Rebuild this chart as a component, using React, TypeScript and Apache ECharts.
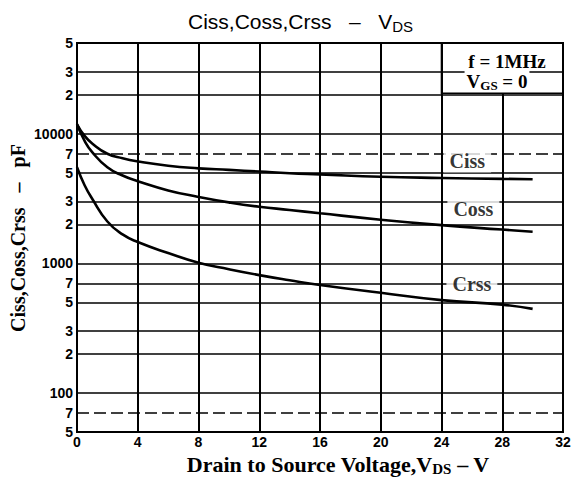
import React, { useEffect, useRef } from "react";
import * as echarts from "echarts";

// ---- data ----
const vds = [0, 0.5, 1, 2, 3, 4, 6, 8, 10, 12, 14, 16, 20, 24, 28, 30];
const ciss = [11800, 9600, 8400, 7000, 6450, 6100, 5650, 5400, 5250, 5100, 4950, 4850, 4650, 4550, 4480, 4450];
const coss = [11800, 8800, 7200, 5500, 4750, 4300, 3650, 3250, 2950, 2730, 2580, 2430, 2170, 1970, 1820, 1750];
const crss = [5500, 4000, 3150, 2100, 1670, 1460, 1200, 1010, 900, 811, 740, 680, 592, 520, 480, 445];

const yGridValues = [50000, 30000, 20000, 10000, 7000, 5000, 3000, 2000, 1000, 700, 500, 300, 200, 100, 70, 50];
const yTickLabels = ["5", "3", "2", "10000", "7", "5", "3", "2", "1000", "7", "5", "3", "2", "100", "7", "5"];
const dashedGrid = [7000, 70];
const xGridValues = [4, 8, 12, 16, 20, 24, 28];

const curveNames = ["Ciss", "Coss", "Crss"];
const curveLabelX = [25.7, 26.1, 26.0];
const curveLabelY = [6200, 2640, 690];

const xMin = 0;
const xMax = 32;
const xStep = 4;
const yMin = 50;
const yMax = 50000;
// note box (f = 1MHz, VGS = 0) spans x 24..32, y from here up to the top
const boxX = 24;
const boxBottom = 20500;

const serif = "'Liberation Serif', 'DejaVu Serif', serif";
const sans = "'Liberation Sans', Arial, sans-serif";

export default function App() {
  const ref = useRef<HTMLDivElement>(null);
  useEffect(() => {
    document.body.style.margin = "0";
    if (!ref.current) return;
    const chart = echarts.init(ref.current, undefined, { renderer: "svg" });
    const mk = (arr: number[]) => vds.map((x, i) => [x, arr[i]]);
    const curveStyle = (name: string, arr: number[]) => ({
      name,
      type: "line",
      data: mk(arr),
      smooth: 0.5,
      showSymbol: false,
      symbol: "none",
      z: 4,
      lineStyle: { color: "#000", width: 2.6 },
    });
    const gridLine = { color: "#000", width: 1.6, type: "solid" };
    chart.setOption({
      animation: false,
      backgroundColor: "#fff",
      title: {
        text: "{a|Ciss,Coss,Crss   –   V}{s|DS}",
        left: 183,
        top: 4,
        textStyle: {
          rich: {
            a: { fontFamily: sans, fontSize: 21, color: "#000", fontWeight: "normal" },
            s: { fontFamily: sans, fontSize: 15, color: "#000", fontWeight: "normal", padding: [10, 0, 0, 0] },
          },
        },
      },
      grid: {
        left: 77,
        right: 13,
        top: 43,
        bottom: 47,
        show: true,
        borderColor: "#000",
        borderWidth: 2,
        backgroundColor: "transparent",
      },
      xAxis: {
        type: "value",
        min: xMin,
        max: xMax,
        interval: xStep,
        axisLine: { show: true, lineStyle: { color: "#000", width: 2 } },
        axisTick: { show: false },
        splitLine: { show: false },
        axisLabel: {
          color: "#000",
          fontFamily: sans,
          fontWeight: "bold",
          fontSize: 14,
          margin: 3,
        },
      },
      yAxis: {
        type: "log",
        logBase: 10,
        min: yMin,
        max: yMax,
        axisLine: { show: true, lineStyle: { color: "#000", width: 2 } },
        axisTick: { show: false },
        splitLine: { show: false },
        axisLabel: { show: false },
      },
      graphic: [
        {
          type: "text",
          x: 18,
          y: 238,
          rotation: Math.PI / 2,
          style: {
            text: "Ciss,Coss,Crss   –   pF",
            font: `bold 20px ${serif}`,
            fill: "#000",
            align: "center",
            verticalAlign: "middle",
          },
        },
        {
          type: "text",
          x: 338,
          y: 464,
          style: {
            text: "{a|Drain to Source Voltage,V}{s|DS}{a| – V}",
            align: "center",
            verticalAlign: "middle",
            rich: {
              a: { fontFamily: serif, fontSize: 22, fill: "#000", fontWeight: "bold" },
              s: { fontFamily: serif, fontSize: 15, fill: "#000", fontWeight: "bold", padding: [9, 0, 0, 0] },
            },
          },
          z: 10,
        },
        {
          type: "text",
          x: 507,
          y: 61,
          z: 10,
          style: {
            text: "f = 1MHz",
            font: `bold 19px ${serif}`,
            fill: "#000",
            align: "center",
            verticalAlign: "middle",
            backgroundColor: "#fff",
            padding: [0, 2],
          },
        },
        {
          type: "text",
          x: 497,
          y: 81,
          z: 10,
          style: {
            text: "{a|V}{s|GS}{a| = 0}",
            align: "center",
            verticalAlign: "middle",
            backgroundColor: "#fff",
            padding: [0, 2],
            rich: {
              a: { fontFamily: serif, fontSize: 19, fill: "#000", fontWeight: "bold" },
              s: { fontFamily: serif, fontSize: 13, fill: "#000", fontWeight: "bold", padding: [8, 0, 0, 0] },
            },
          },
        },
      ],
      series: [
        {
          name: "box",
          type: "line",
          data: [],
          z: 1,
          silent: true,
          markArea: {
            silent: true,
            itemStyle: { color: "transparent", borderColor: "#000", borderWidth: 1.6 },
            data: [[{ coord: [boxX, boxBottom] }, { coord: [xMax, yMax] }]],
          },
        },
        {
          name: "grid",
          type: "line",
          data: [],
          z: 2,
          silent: true,
          markLine: {
            silent: true,
            symbol: "none",
            animation: false,
            lineStyle: gridLine,
            data: [
              ...yGridValues.map((v, i) => ({
                yAxis: v,
                lineStyle: {
                  ...gridLine,
                  type: dashedGrid.includes(v) ? [12, 5] : "solid",
                },
                label: {
                  show: true,
                  position: "start",
                  formatter: yTickLabels[i],
                  color: "#000",
                  fontFamily: sans,
                  fontWeight: "bold",
                  fontSize: 14,
                  distance: 4,
                },
              })),
              ...xGridValues.map((x) => [
                {
                  coord: [x, yMin],
                  lineStyle: { color: "#000", width: 2, type: "solid" },
                  label: { show: false },
                },
                { coord: [x, x > boxX ? boxBottom : yMax] },
              ]),
            ],
          },
        },
        curveStyle("Ciss", ciss),
        curveStyle("Coss", coss),
        curveStyle("Crss", crss),
        {
          name: "labels",
          type: "scatter",
          symbolSize: 1,
          z: 6,
          itemStyle: { color: "transparent" },
          data: curveNames.map((n, i) => [curveLabelX[i], curveLabelY[i], n]),
          label: {
            show: true,
            position: "inside",
            formatter: (p: any) => p.data[2],
            fontFamily: serif,
            fontSize: 20,
            fontWeight: "bold",
            color: "#000",
            backgroundColor: "#fff",
            padding: [2, 6],
          },
        },
      ],
    });
    return () => chart.dispose();
  }, []);
  return <div ref={ref} style={{ width: 576, height: 479 }} />;
}
